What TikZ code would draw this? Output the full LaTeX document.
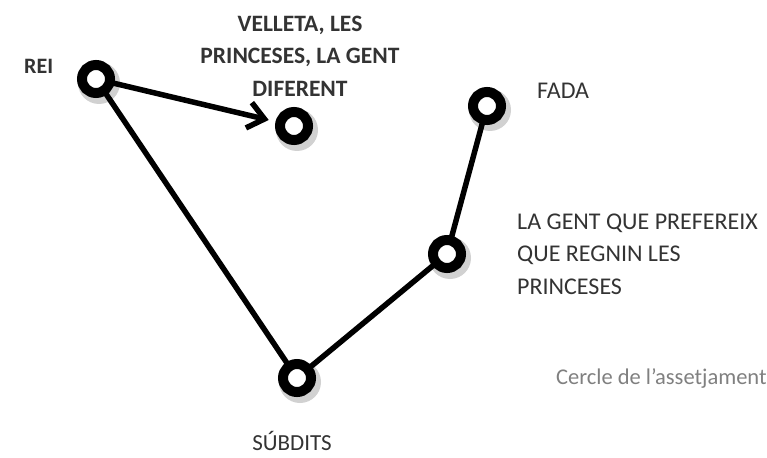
\documentclass[tikz,border=0pt]{standalone}
\usepackage{fontspec}
\setmainfont{Carlito}
\usetikzlibrary{arrows.meta,calc}
\begin{document}
\begin{tikzpicture}[x=1pt,y=-1pt,
  ring/.style={circle,draw=black,line width=10pt,minimum size=28pt,inner sep=0pt,fill=white},
  shad/.style={circle,fill=black!18,minimum size=42pt,inner sep=0pt},
  conn/.style={line width=5.5pt,line cap=round},
  lbl/.style={font=\fontsize{24}{32.5}\selectfont,text=black!80,inner sep=0pt},
  blbl/.style={font=\fontsize{23.5}{32.5}\selectfont\bfseries,text=black!80,inner sep=0pt}]
\useasboundingbox (0,0) rectangle (767,457);
\coordinate (rei) at (96,79);
\coordinate (vel) at (294,126);
\coordinate (fada) at (487,106);
\coordinate (gent) at (447,254);
\coordinate (sub) at (297,378);
% shadows
\node[shad] (s1) at (99,83) {};
\node[shad] (s2) at (297,130) {};
\node[shad] (s3) at (490,110) {};
\node[shad] (s4) at (450,258) {};
\node[shad] (s5) at (300,382) {};
% connectors
\draw[conn] (rei) -- (sub) -- (gent) -- (fada);
\coordinate (tip) at ($(vel)!26pt!(rei)$);
\draw[conn,-{Straight Barb[length=16pt,width=26pt,line width=5.5pt]}] (rei) -- (tip);
% rings
\node[ring] (reiR) at (rei) {};
\node[ring] (velR) at (vel) {};
\node[ring] (fadaR) at (fada) {};
\node[ring] (gentR) at (gent) {};
\node[ring] (subR) at (sub) {};
% labels
\node[blbl,font=\fontsize{22}{24}\selectfont\bfseries,anchor=west] (lrei) at (24,66) {REI};
\node[blbl,align=center] (lvel) at (300,56) {VELLETA, LES\\PRINCESES, LA GENT\\DIFERENT};
\node[lbl,anchor=west] (lfada) at (537,91) {FADA};
\node[lbl,anchor=west,align=left] (lgent) at (517,254) {LA GENT QUE PREFEREIX\\QUE REGNIN LES\\PRINCESES};
\node[lbl,font=\fontsize{22.5}{24}\selectfont,text=black!50,anchor=west] (lcer) at (556,378) {Cercle de l’assetjament};
\node[lbl,font=\fontsize{23}{24}\selectfont] (lsub) at (292,441) {SÚBDITS};
\end{tikzpicture}
\end{document}
